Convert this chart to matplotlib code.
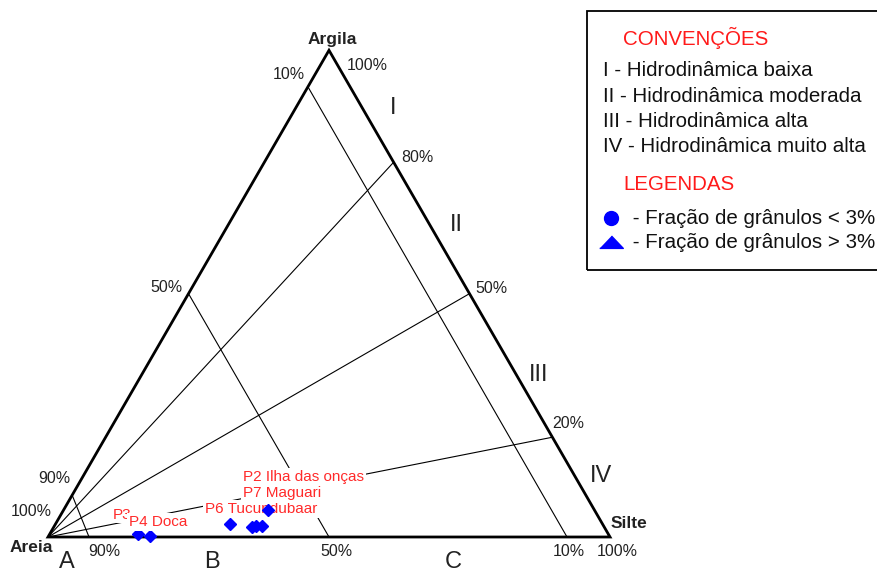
import numpy as np
import matplotlib.pyplot as plt
from matplotlib.patches import Polygon, Rectangle

plt.rcParams['font.family'] = ['Liberation Sans', 'DejaVu Sans']

W, HPX = 878, 571
H = np.sqrt(3) / 2

# Amostras (%): areia, silte, argila
nomes = ['P3', 'P4 Doca', 'P6 Tucundubaar', None, None, 'P2 Ilha das onças', 'P7 Maguari']
areia = [83.7, 81.8, 66.3, 62.7, 61.9, 60.8, 58.1]
silte = [15.7, 18.0, 31.0, 35.3, 35.9, 36.9, 36.4]
argila = [0.6, 0.2, 2.7, 2.0, 2.2, 2.3, 5.5]

# Linhas de Pejrup: razao argila/lama (saem do vertice Areia)
razao_argila = [0.77, 0.50, 0.205]
razao_rotulos = ['80%', '50%', '20%']
# Linhas de teor de areia: posicao no lado esquerdo (argila) e na base (silte)
areia_esq = [0.086, 0.50, 0.925]
areia_base = [0.073, 0.50, 0.9235]
areia_rotulos_esq = ['90%', '50%', '10%']
areia_rotulos_base = ['90%', '50%', '10%']

setores = ['I', 'II', 'III', 'IV']
classes = ['A', 'B', 'C']
convencoes = ['I - Hidrodinâmica baixa', 'II - Hidrodinâmica moderada',
              'III - Hidrodinâmica alta', 'IV - Hidrodinâmica muito alta']
legendas = [' - Fração de grânulos < 3%', ' - Fração de grânulos > 3%']


def ternario(a, s, c):
    t = a + s + c
    return (s + c / 2) / t, c * H / t


def fig_px(x, y):
    return x / W, 1 - y / HPX


fig = plt.figure(figsize=(W / 100, HPX / 100), dpi=100)
ax = fig.add_axes([0, 0, 1, 1])
ax.set_xlim(-48 / 562, 830 / 562)
ax.set_ylim(-34 / 562, 537 / 562)
ax.axis('off')

v_areia = (0.0, 0.0)
v_silte = (1.0, 0.0)
v_argila = (0.5, H)

# linhas internas
for c in razao_argila:
    ax.plot([0, 1 - c / 2], [0, c * H], color='black', lw=0.8, zorder=1)
for s, b in zip(areia_esq, areia_base):
    ax.plot([s / 2, b], [s * H, 0], color='black', lw=0.8, zorder=1)

ax.add_patch(Polygon([v_areia, v_silte, v_argila], closed=True, fill=False,
                     edgecolor='black', lw=2.0, joinstyle='miter', zorder=2))

# rotulos de percentagem
def rotulo(txt, xy, dx, dy, ha='left', **kw):
    ax.annotate(txt, xy=xy, xytext=(dx, dy), textcoords='offset pixels',
                ha=ha, va='center', fontsize=11.5, color='#222222', **kw)

rot_dir = [(8, 5), (6, 5), (0, 14)]
for c, txt, (dx, dy) in zip(razao_argila, razao_rotulos, rot_dir):
    rotulo(txt, (1 - c / 2, c * H), dx, dy)

rot_esq = [(-2, 17), (-6, 6), (-3, 12)]
for s, txt, (dx, dy) in zip(areia_esq, areia_rotulos_esq, rot_esq):
    rotulo(txt, (s / 2, s * H), dx, dy, ha='right')

rot_base = [(-1, -14), (-9, -14), (-14, -14)]
for b, txt, (dx, dy) in zip(areia_base, areia_rotulos_base, rot_base):
    rotulo(txt, (b, 0), dx, dy)

rotulo('100%', v_argila, 18, -15)
rotulo('100%', v_areia, 4, 25, ha='right')
rotulo('100%', v_silte, -13, -14)

# vertices
ax.annotate('Argila', xy=v_argila, xytext=(3, 11), textcoords='offset pixels',
            ha='center', va='center', fontsize=12.5, fontweight='bold', color='#222222')
ax.annotate('Silte', xy=v_silte, xytext=(1, 14), textcoords='offset pixels',
            ha='left', va='center', fontsize=12.5, fontweight='bold', color='#222222')
ax.annotate('Areia', xy=v_areia, xytext=(5, -11), textcoords='offset pixels',
            ha='right', va='center', fontsize=12.5, fontweight='bold', color='#222222')

# setores e classes
pos_setores = [(393, 108), (456, 225), (539, 375), (601, 476)]
for txt, (x, y) in zip(setores, pos_setores):
    fig.text(*fig_px(x, y), txt, fontsize=17, ha='center', va='center', color='#222222')
pos_classes = [67, 212, 453]
for txt, x in zip(classes, pos_classes):
    fig.text(*fig_px(x, 551), txt, fontsize=17, ha='center', va='top', color='#222222',
             bbox=dict(facecolor='white', edgecolor='none', pad=1.5), zorder=6)

# amostras
xs, ys = ternario(np.array(areia), np.array(silte), np.array(argila))
ax.plot(xs, ys, 'D', color='#0000FF', markersize=6, zorder=4, linestyle='none')

off_rotulos = [(-25, 19), (-21, 14), (-25, 15), None, None, (-19, 49), (-25, 17)]
pads = [1.0, 1.3, 1.6, None, None, 1.6, 1.6]
for nome, x, y, off, pad in zip(nomes, xs, ys, off_rotulos, pads):
    if nome is None:
        continue
    z = 3 if nome.startswith('P6') else 5
    ax.annotate(nome, xy=(x, y), xytext=off, textcoords='offset pixels',
                ha='left', va='center', fontsize=11, color='#FF2A2A', zorder=z,
                bbox=dict(facecolor='white', edgecolor='none', pad=pad))

# caixa de convencoes
x0, y0 = fig_px(587, 270)
x1, y1 = fig_px(890, 11)
fig.add_artist(Rectangle((x0, y0), x1 - x0, y1 - y0, transform=fig.transFigure,
                         fill=False, edgecolor='black', lw=1.3))
fig.text(*fig_px(623, 38), 'CONVENÇÕES', fontsize=14.8, color='#FF1A1A', va='center')
for i, txt in enumerate(convencoes):
    fig.text(*fig_px(603, 71 + 25.3 * i), txt, fontsize=14.8, color='#111111', va='center')
fig.text(*fig_px(623, 185), 'LEGENDAS', fontsize=14.8, color='#FF1A1A', va='center')
fig.text(*fig_px(627, 218), legendas[0], fontsize=14.8, color='#111111', va='center')
fig.text(*fig_px(627, 243), legendas[1], fontsize=14.8, color='#111111', va='center')
ax.plot(*fig_px(611, 218), 'o', color='#0000FF', markersize=10,
        transform=fig.transFigure, clip_on=False)
ax.plot(*fig_px(611, 242), marker=[(-1, -0.5), (1, -0.5), (0, 0.55)], color='#0000FF',
        markersize=17, transform=fig.transFigure, clip_on=False, linestyle='none')

fig.savefig('out.png', dpi=100)
